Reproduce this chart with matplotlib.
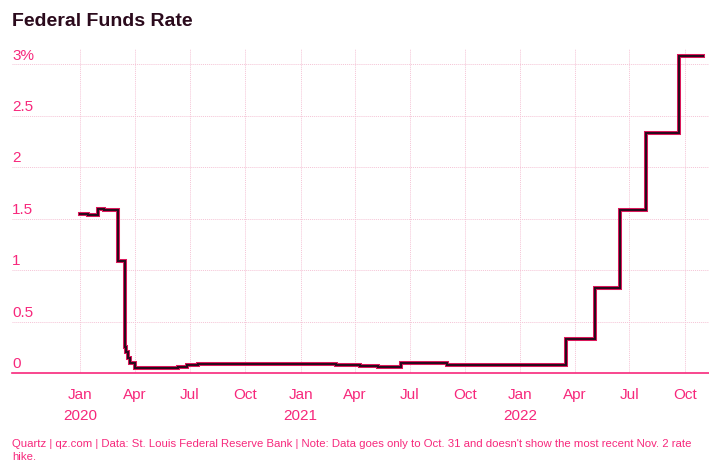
import numpy as np
import pandas as pd
import matplotlib
matplotlib.use("Agg")
import matplotlib.pyplot as plt
import matplotlib.patheffects as pe
from matplotlib.transforms import ScaledTranslation

plt.rc("font", family=["Liberation Sans", "DejaVu Sans"])
plt.rc("font", size=10)

PINK = "#f7287c"
DARK = "#2b0a1c"
GRID = "#f5c4d6"

# effective federal funds rate, step changes (date, percent)
change_dates = [
    "2020-01-01", "2020-01-14", "2020-01-30", "2020-02-10", "2020-03-04",
    "2020-03-16", "2020-03-18", "2020-03-20", "2020-03-24", "2020-04-01",
    "2020-05-15", "2020-06-12", "2020-06-26", "2020-07-15", "2020-08-20",
    "2020-11-01", "2021-01-15", "2021-03-01", "2021-04-10", "2021-05-10",
    "2021-06-17", "2021-08-05", "2021-09-01", "2021-10-01", "2022-03-17",
    "2022-05-05", "2022-06-16", "2022-07-28", "2022-09-22", "2022-10-31",
]
rates = [
    1.55, 1.54, 1.59, 1.58, 1.09,
    0.25, 0.20, 0.15, 0.10, 0.05,
    0.05, 0.06, 0.08, 0.09, 0.09,
    0.09, 0.09, 0.08, 0.07, 0.06,
    0.10, 0.10, 0.08, 0.08, 0.33,
    0.83, 1.58, 2.33, 3.08, 3.08,
]

x_ticks = ["2020-01-01", "2020-04-01", "2020-07-01", "2020-10-01",
           "2021-01-01", "2021-04-01", "2021-07-01", "2021-10-01",
           "2022-01-01", "2022-04-01", "2022-07-01", "2022-10-01"]
x_labels = ["Jan\n2020", "Apr", "Jul", "Oct",
            "Jan\n2021", "Apr", "Jul", "Oct",
            "Jan\n2022", "Apr", "Jul", "Oct"]

y_ticks = [0, 0.5, 1, 1.5, 2, 2.5, 3]
y_labels = ["0", "0.5", "1", "1.5", "2", "2.5", "3%"]

title = "Federal Funds Rate"
footer = ("Quartz | qz.com | Data: St. Louis Federal Reserve Bank | Note: Data goes only to "
          "Oct. 31 and doesn't show the most recent Nov. 2 rate\nhike.")

dates = pd.to_datetime(change_dates)

fig = plt.gcf()
fig.set_size_inches(7.09, 4.61)
fig.set_dpi(100)
ax = fig.add_axes([12 / 709, 88 / 461, 697 / 709, 324 / 461])

ax.plot(dates, rates, drawstyle="steps-post", color=DARK, lw=1.5,
        solid_joinstyle="miter",
        path_effects=[pe.Stroke(linewidth=2.9, foreground="#e3195e"), pe.Normal()])

ax.set_xlim(pd.Timestamp("2019-09-10"), pd.Timestamp("2022-11-10"))
ax.set_ylim(0, 3.15)

ax.set_xticks(pd.to_datetime(x_ticks), x_labels)
ax.tick_params(axis="x", length=0, pad=11, labelcolor=PINK, labelsize=11)
for lbl in ax.get_xticklabels():
    lbl.set_linespacing(1.6)
    lbl.set_va("top")

ax.set_yticks(y_ticks, y_labels)
ax.tick_params(axis="y", length=0, pad=0, labelcolor=PINK, labelsize=11)
off = ScaledTranslation(0, 3.5 / 72, fig.dpi_scale_trans)
for lbl in ax.get_yticklabels():
    lbl.set_ha("left")
    lbl.set_va("baseline")
    lbl.set_transform(lbl.get_transform() + off)

ax.grid(True, color=GRID, lw=0.7, ls=(0, (1, 1)))
ax.set_axisbelow(True)
for s in ["top", "right", "left"]:
    ax.spines[s].set_visible(False)
ax.spines["bottom"].set_color(PINK)
ax.spines["bottom"].set_linewidth(1.2)

fig.text(12 / 709, 1 - 21 / 461, title, color=DARK, fontsize=14, fontweight="bold",
         va="center", ha="left")
fig.text(12 / 709, 1 - 439 / 461, footer, color=PINK, fontsize=8.2, va="top",
         ha="left", linespacing=1.4)

plt.savefig("out.png", dpi=100)
